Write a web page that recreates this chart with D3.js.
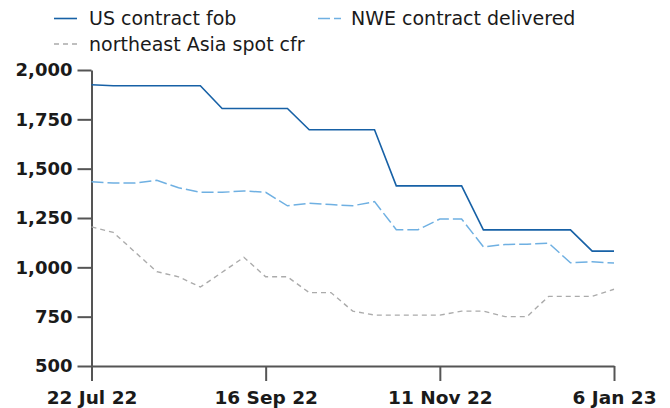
<!DOCTYPE html>
<html>
<head>
<meta charset="utf-8">
<script src="https://cdn.jsdelivr.net/npm/d3@7"></script>
<style>
  html, body { margin: 0; padding: 0; background: #fff; }
  svg { display: block; }
</style>
</head>
<body>
<svg id="chart" width="670" height="408"></svg>
<script>
const dates = ["2022-07-22","2022-07-29","2022-08-05","2022-08-12","2022-08-19","2022-08-26",
  "2022-09-02","2022-09-09","2022-09-16","2022-09-23","2022-09-30","2022-10-07","2022-10-14",
  "2022-10-21","2022-10-28","2022-11-04","2022-11-11","2022-11-18","2022-11-25","2022-12-02",
  "2022-12-09","2022-12-16","2022-12-23","2022-12-30","2023-01-06"];
const usContractFob = [1925,1920,1920,1920,1920,1920,1805,1805,1805,1805,1697,1697,1697,1697,
  1413,1413,1413,1413,1190,1190,1190,1190,1190,1082,1082];
const nweContractDelivered = [1434,1427,1427,1441,1403,1380,1380,1387,1380,1312,1325,1318,1312,
  1333,1191,1191,1245,1245,1104,1116,1117,1123,1023,1028,1022];
const neAsiaSpotCfr = [1205,1177,1077,978,952,900,975,1051,952,952,872,872,778,758,758,758,758,
  778,778,750,750,853,853,853,889];
const seriesNames = ["US contract fob", "NWE contract delivered", "northeast Asia spot cfr"];
const yTicks = [500, 750, 1000, 1250, 1500, 1750, 2000];
const xTickDates = ["2022-07-22", "2022-09-16", "2022-11-11", "2023-01-06"];

(function () {
const parse = d3.utcParse("%Y-%m-%d");
const xDates = dates.map(parse);

const svg = d3.select("#chart");
const mLeft = 91.5, mRight = 614, mTop = 70, mBottom = 366;

const x = d3.scaleUtc().domain([xDates[0], xDates[xDates.length - 1]]).range([mLeft, mRight]);
const y = d3.scaleLinear().domain([500, 2000]).range([mBottom, mTop]);

const styles = [
  { color: "#1761a6", dash: null, width: 1.6 },
  { color: "#6fb0e2", dash: "12,4", width: 1.5 },
  { color: "#ababab", dash: "5,4", width: 1.4 }
];
const allSeries = [usContractFob, nweContractDelivered, neAsiaSpotCfr];

const fontFamily = "'DejaVu Sans', Verdana, sans-serif";
const yAxis = d3.axisLeft(y).tickValues(yTicks).tickFormat(d3.format(",")).tickSizeInner(14).tickSizeOuter(0).tickPadding(5);
const gy = svg.append("g").attr("transform", `translate(${mLeft},0)`).call(yAxis);
gy.selectAll("text").attr("font-family", fontFamily).attr("font-weight", "bold").attr("font-size", 18).attr("fill", "#1a1a1a");

const xAxis = d3.axisBottom(x).tickValues(xTickDates.map(parse)).tickFormat(d3.utcFormat("%-d %b %y")).tickSizeInner(15).tickSizeOuter(0).tickPadding(10);
const gx = svg.append("g").attr("transform", `translate(0,${mBottom})`).call(xAxis);
gx.selectAll("text").attr("font-family", fontFamily).attr("font-weight", "bold").attr("font-size", 18.5).attr("fill", "#1a1a1a");

[gx, gy].forEach(g => {
  g.select(".domain").attr("stroke", "#555").attr("stroke-width", 2);
  g.selectAll(".tick line").attr("stroke", "#555").attr("stroke-width", 2);
});

const line = d3.line().x((d, i) => x(xDates[i])).y(d => y(d));
[2, 1, 0].forEach(k => {
  svg.append("path")
    .datum(allSeries[k])
    .attr("d", line)
    .attr("fill", "none")
    .attr("stroke", styles[k].color)
    .attr("stroke-width", styles[k].width)
    .attr("stroke-dasharray", styles[k].dash)
    .attr("stroke-linejoin", "miter");
});

const legendPos = [
  { lx: 54, ly: 18.5, tx: 89, ty: 25 },
  { lx: 318, ly: 18.5, tx: 351, ty: 25 },
  { lx: 54, ly: 44, tx: 89, ty: 51 }
];
seriesNames.forEach((name, k) => {
  const p = legendPos[k];
  svg.append("line")
    .attr("x1", p.lx).attr("x2", p.lx + 23)
    .attr("y1", p.ly).attr("y2", p.ly)
    .attr("stroke", styles[k].color)
    .attr("stroke-width", styles[k].width)
    .attr("stroke-dasharray", styles[k].dash);
  svg.append("text")
    .attr("x", p.tx).attr("y", p.ty)
    .attr("font-family", fontFamily)
    .attr("font-size", 19)
    .attr("fill", "#1a1a1a")
    .text(name);
});
})();
</script>
</body>
</html>
